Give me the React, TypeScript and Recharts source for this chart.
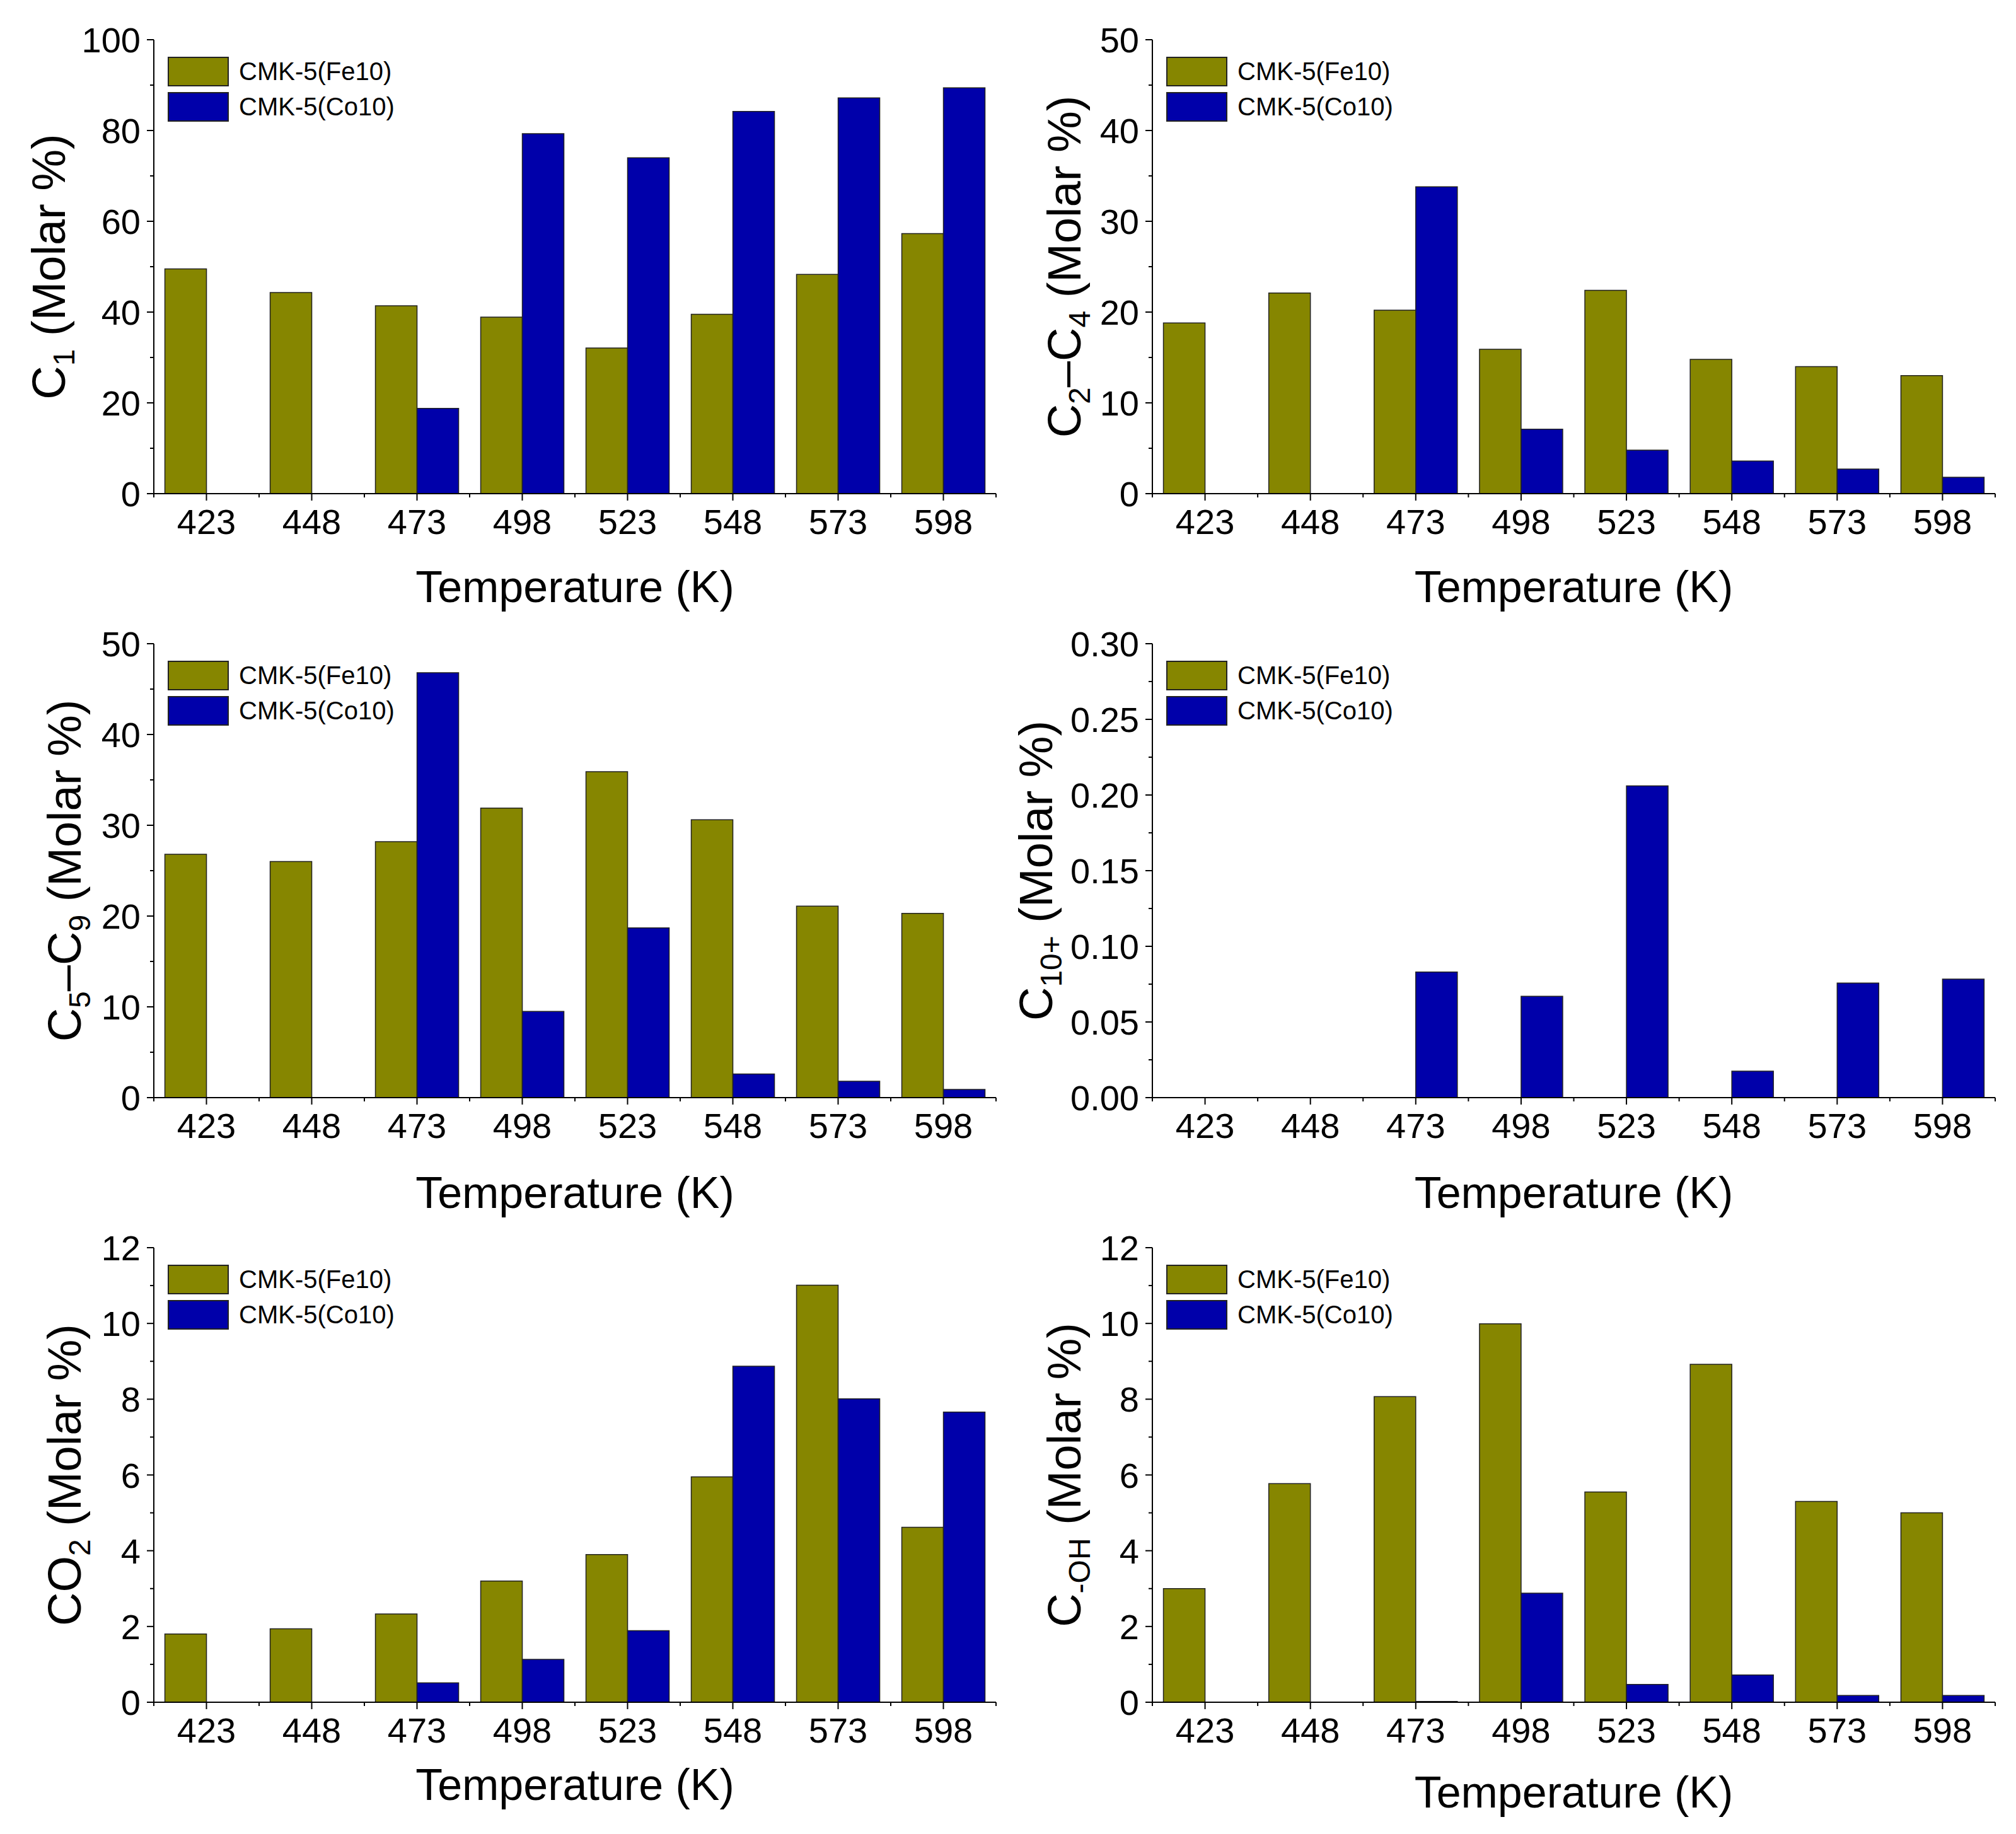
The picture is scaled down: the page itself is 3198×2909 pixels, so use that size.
import React from "react";
import { BarChart, Bar, XAxis, YAxis, Legend, Label } from "recharts";

const FONT = "'Liberation Sans', Arial, Helvetica, sans-serif";
const FE_COLOR = "#868600";
const CO_COLOR = "#0000AA";

// categories
const temps = ["423", "448", "473", "498", "523", "548", "573", "598"];

// series values
const c1Fe = [49.5, 44.3, 41.4, 38.9, 32.1, 39.5, 48.3, 57.3];
const c1Co = [0, 0, 18.8, 79.3, 74.0, 84.2, 87.2, 89.4];
const c24Fe = [18.8, 22.1, 20.2, 15.9, 22.4, 14.8, 14.0, 13.0];
const c24Co = [0, 0, 33.8, 7.1, 4.8, 3.6, 2.7, 1.8];
const c59Fe = [26.8, 26.0, 28.2, 31.9, 35.9, 30.6, 21.1, 20.3];
const c59Co = [0, 0, 46.8, 9.5, 18.7, 2.6, 1.8, 0.9];
const c10Fe = [0, 0, 0, 0, 0, 0, 0, 0];
const c10Co = [0, 0, 0.083, 0.067, 0.206, 0.0175, 0.0757, 0.0783];
const co2Fe = [1.8, 1.94, 2.33, 3.2, 3.9, 5.95, 11.01, 4.62];
const co2Co = [0, 0, 0.51, 1.13, 1.89, 8.87, 8.01, 7.66];
const cohFe = [3.0, 5.77, 8.07, 9.99, 5.55, 8.92, 5.3, 5.0];
const cohCo = [0, 0, 0.02, 2.88, 0.47, 0.72, 0.18, 0.18];

// y tick labels
const c1Ticks = [0, 20, 40, 60, 80, 100];
const c24Ticks = [0, 10, 20, 30, 40, 50];
const c59Ticks = [0, 10, 20, 30, 40, 50];
const c10Ticks = [0, 0.05, 0.1, 0.15, 0.2, 0.25, 0.3];
const co2Ticks = [0, 2, 4, 6, 8, 10, 12];
const cohTicks = [0, 2, 4, 6, 8, 10, 12];

const seriesNames = ["CMK-5(Fe10)", "CMK-5(Co10)"];

type Part = { t: string; sub?: boolean };

const panels = [
  { id: "c1", x: 0, y: 0, h: 1000, L: 244, R: 19, T: 63, plotH: 720, fe: c1Fe, co: c1Co, ticks: c1Ticks, digits: 0, titleOff: 167, xTitleOff: 147,
    title: [{ t: "C" }, { t: "1", sub: true }, { t: " (Molar %)" }] as Part[] },
  { id: "c24", x: 1599, y: 0, h: 1000, L: 229, R: 33, T: 63, plotH: 720, fe: c24Fe, co: c24Co, ticks: c24Ticks, digits: 0, titleOff: 140, xTitleOff: 147,
    title: [{ t: "C" }, { t: "2", sub: true }, { t: "–C" }, { t: "4", sub: true }, { t: " (Molar %)" }] as Part[] },
  { id: "c59", x: 0, y: 960, h: 1000, L: 244, R: 19, T: 61, plotH: 720, fe: c59Fe, co: c59Co, ticks: c59Ticks, digits: 0, titleOff: 142, xTitleOff: 150,
    title: [{ t: "C" }, { t: "5", sub: true }, { t: "–C" }, { t: "9", sub: true }, { t: " (Molar %)" }] as Part[] },
  { id: "c10", x: 1599, y: 960, h: 1000, L: 229, R: 33, T: 61, plotH: 720, fe: c10Fe, co: c10Co, ticks: c10Ticks, digits: 2, titleOff: 185, xTitleOff: 150,
    title: [{ t: "C" }, { t: "10+", sub: true }, { t: " (Molar %)" }] as Part[] },
  { id: "co2", x: 0, y: 1930, h: 979, L: 244, R: 19, T: 49, plotH: 721, fe: co2Fe, co: co2Co, ticks: co2Ticks, digits: 0, titleOff: 142, xTitleOff: 130,
    title: [{ t: "CO" }, { t: "2", sub: true }, { t: " (Molar %)" }] as Part[] },
  { id: "coh", x: 1599, y: 1930, h: 979, L: 229, R: 33, T: 49, plotH: 721, fe: cohFe, co: cohCo, ticks: cohTicks, digits: 0, titleOff: 140, xTitleOff: 142,
    title: [{ t: "C" }, { t: "-OH", sub: true }, { t: " (Molar %)" }] as Part[] },
];

const BOX_W = 1599;

const YTitle = ({ cx, cy, parts }: { cx: number; cy: number; parts: Part[] }) => {
  let shift = 0;
  return (
    <text x={cx} y={cy + 26} transform={`rotate(-90 ${cx} ${cy})`} textAnchor="middle" fontSize={74} fontFamily={FONT} fill="#000">
      {parts.map((p, i) => {
        const target = p.sub ? 15 : 0;
        const dy = target - shift;
        shift = target;
        return (
          <tspan key={i} dy={dy} fontSize={p.sub ? 48 : 74}>
            {p.t}
          </tspan>
        );
      })}
    </text>
  );
};

const YTick = (props: any) => {
  const { y, payload, axisX, major, digits } = props;
  const isMajor = major.some((m: number) => Math.abs(m - payload.value) < 1e-9);
  return (
    <g>
      <line x1={axisX} x2={axisX - (isMajor ? 11 : 6)} y1={y} y2={y} stroke="#000" strokeWidth={2} />
      {isMajor && (
        <text x={axisX - 21} y={y + 20} textAnchor="end" fontSize={56} fontFamily={FONT} fill="#000">
          {Number(payload.value).toFixed(digits)}
        </text>
      )}
    </g>
  );
};

const XTick = (props: any) => {
  const { x, payload, index, axisY, band } = props;
  return (
    <g>
      <line x1={x} x2={x} y1={axisY} y2={axisY + 11} stroke="#000" strokeWidth={2} />
      <line x1={x - band / 2} x2={x - band / 2} y1={axisY} y2={axisY + 6} stroke="#000" strokeWidth={2} />
      {index === temps.length - 1 && (
        <line x1={x + band / 2} x2={x + band / 2} y1={axisY} y2={axisY + 6} stroke="#000" strokeWidth={2} />
      )}
      <text x={x} y={axisY + 24} dy="0.71em" textAnchor="middle" fontSize={56} fontFamily={FONT} fill="#000">
        {payload.value}
      </text>
    </g>
  );
};

const LegendBox = () => (
  <div style={{ fontFamily: FONT }}>
    {seriesNames.map((name, i) => (
      <div key={name} style={{ display: "flex", alignItems: "center", height: 56 }}>
        <div
          style={{
            width: 97,
            height: 47,
            boxSizing: "border-box",
            border: "2px solid #222",
            background: i === 0 ? FE_COLOR : CO_COLOR,
          }}
        />
        <span style={{ marginLeft: 16, fontSize: 40, lineHeight: "47px", color: "#000" }}>{name}</span>
      </div>
    ))}
  </div>
);

const Panel = ({ p }: { p: (typeof panels)[number] }) => {
  const data = temps.map((t, i) => ({ temp: t, fe: p.fe[i], co: p.co[i] }));
  const step = p.ticks[1] - p.ticks[0];
  const allTicks: number[] = [];
  p.ticks.forEach((v, i) => {
    allTicks.push(v);
    if (i < p.ticks.length - 1) allTicks.push(v + step / 2);
  });
  const plotW = BOX_W - p.L - p.R;
  const band = plotW / temps.length;
  const axisY = p.T + p.plotH;
  const xh = p.h - p.T - p.plotH;
  const max = p.ticks[p.ticks.length - 1];
  return (
    <div style={{ position: "absolute", left: p.x - 8, top: p.y - 8 }}>
      <BarChart
        width={BOX_W}
        height={p.h}
        data={data}
        margin={{ top: p.T, right: p.R, bottom: 0, left: 0 }}
        barCategoryGap="10.5%"
        barGap={0}
      >
        <XAxis
          dataKey="temp"
          height={xh}
          interval={0}
          tickLine={false}
          axisLine={{ stroke: "#000", strokeWidth: 2 }}
          tick={<XTick axisY={axisY} band={band} />}
        >
          <Label
            content={() => (
              <text
                x={p.L + plotW / 2}
                y={axisY + p.xTitleOff + 25}
                textAnchor="middle"
                fontSize={70}
                fontFamily={FONT}
                fill="#000"
              >
                Temperature (K)
              </text>
            )}
          />
        </XAxis>
        <XAxis xAxisId="top" orientation="top" dataKey="temp" height={0} tick={false} tickLine={false} axisLine={{ stroke: "#000", strokeWidth: 2 }} />
        <YAxis
          width={p.L}
          domain={[0, max]}
          ticks={allTicks}
          interval={0}
          allowDataOverflow
          tickLine={false}
          axisLine={{ stroke: "#000", strokeWidth: 2 }}
          tick={<YTick axisX={p.L} major={p.ticks} digits={p.digits} />}
        >
          <Label content={() => <YTitle cx={p.L - p.titleOff} cy={p.T + p.plotH / 2} parts={p.title} />} />
        </YAxis>
        <YAxis yAxisId="right" orientation="right" width={0} domain={[0, max]} tick={false} tickLine={false} axisLine={{ stroke: "#000", strokeWidth: 2 }} />
        <Legend
          layout="vertical"
          align="center"
          verticalAlign="middle"
          wrapperStyle={{ left: p.L + 22, top: p.T + 22, width: 600, height: 112 }}
          content={() => <LegendBox />}
        />
        <Bar dataKey="fe" name={seriesNames[0]} fill={FE_COLOR} stroke="#222" strokeWidth={1.5} isAnimationActive={false} />
        <Bar dataKey="co" name={seriesNames[1]} fill={CO_COLOR} stroke="#222" strokeWidth={1.5} isAnimationActive={false} />
      </BarChart>
    </div>
  );
};

export default function App() {
  return (
    <div style={{ position: "relative", width: 3182, height: 2893, background: "#fff" }}>
      {panels.map((p) => (
        <Panel key={p.id} p={p} />
      ))}
    </div>
  );
}
